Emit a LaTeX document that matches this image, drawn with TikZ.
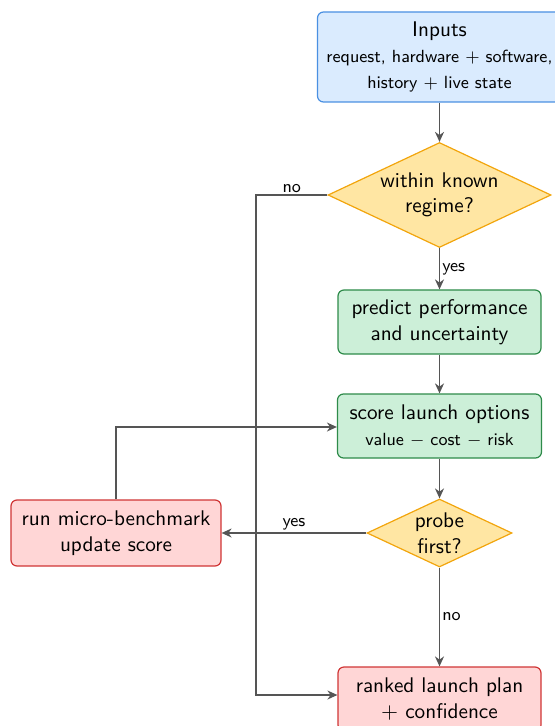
\documentclass[tikz,border=0pt]{standalone}
\usetikzlibrary{shapes.geometric,arrows.meta}
\renewcommand{\familydefault}{\sfdefault}
\newcommand{\mainsz}{\fontsize{10.6}{12.8}\selectfont}
\newcommand{\subsz}{\fontsize{8.8}{11.8}\selectfont}
\definecolor{lineC}{HTML}{555555}
\definecolor{blueF}{HTML}{DAEBFE}
\definecolor{blueD}{HTML}{4A90E2}
\definecolor{yelF}{HTML}{FFE6A3}
\definecolor{yelD}{HTML}{F2A50C}
\definecolor{grnF}{HTML}{CCEFD8}
\definecolor{grnD}{HTML}{2E8B4A}
\definecolor{redF}{HTML}{FFD6D6}
\definecolor{redD}{HTML}{D03535}
\tikzset{
  boxbase/.style={rectangle, rounded corners=3pt, line width=0.6pt, align=center, inner sep=2pt, font=\mainsz},
  bluebox/.style={boxbase, fill=blueF, draw=blueD},
  grnbox/.style={boxbase, fill=grnF, draw=grnD},
  redbox/.style={boxbase, fill=redF, draw=redD},
  decide/.style={diamond, aspect=2.12, fill=yelF, draw=yelD, line width=0.6pt, align=center, inner sep=0pt, font=\mainsz},
  conn/.style={draw=lineC, line width=0.8pt, -{Stealth[length=5pt,width=4.5pt]}},
  lbl/.style={font=\subsz, text=black, inner sep=1pt}
}
\begin{document}
\begin{tikzpicture}[x=0.5pt,y=-0.5pt]
\useasboundingbox (0,0) rectangle (555,726);
\begin{scope}
\clip (0,0) rectangle (555,726);
\node[bluebox, minimum width=122pt, minimum height=45pt] (inp) at (439.5,57)
  {Inputs\\{\subsz request, hardware $+$ software,}\\{\subsz history $+$ live state}};
\node[decide, minimum width=111.5pt, minimum height=52.5pt] (reg) at (439.5,195) {within known\\regime?};
\node[grnbox, minimum width=101.5pt, minimum height=32pt] (pred) at (439.5,322) {predict performance\\and uncertainty};
\node[grnbox, minimum width=102pt, minimum height=32pt] (score) at (439.5,426) {score launch options\\{\subsz value $-$ cost $-$ risk}};
\node[decide, minimum width=72.5pt, minimum height=34pt] (probe) at (439.5,533) {probe\\first?};
\node[redbox, minimum width=105pt, minimum height=33pt] (run) at (116,533) {run micro-benchmark\\update score};
\node[redbox, minimum width=101.5pt, minimum height=32pt] (rank) at (439.5,699) {ranked launch plan\\$+$ confidence};
\coordinate (c1) at (256,195);
\coordinate (c2) at (256,695);
\coordinate (c3) at (116,427);
\draw[conn] (inp) -- (reg);
\draw[conn] (reg) -- node[lbl, right] {yes} (pred);
\draw[conn] (pred) -- (score);
\draw[conn] (score) -- (probe);
\draw[conn] (probe) -- node[lbl, above, pos=0.5] {yes} (run);
\draw[conn] (probe) -- node[lbl, right] {no} (rank);
\draw[conn] (run.north) -- (c3) -- (c3 -| score.west);
\draw[conn] (reg.west) -- node[lbl, above, pos=0.5] {no} (c1) -- (c2) -- (c2 -| rank.west);
\end{scope}
\end{tikzpicture}
\end{document}
